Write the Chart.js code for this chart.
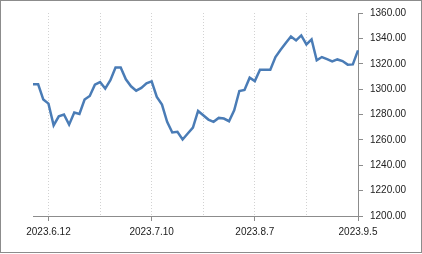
<!DOCTYPE html>
<html>
<head>
<meta charset="utf-8">
<script src="https://cdn.jsdelivr.net/npm/chart.js@4/dist/chart.umd.min.js"></script>
<style>
  html, body { margin: 0; padding: 0; background: #fff; }
  #wrap { position: relative; width: 422px; height: 254px; }
  #frame { position: absolute; left: 0; top: 0; width: 420px; height: 251px; border: 1px solid #8c8c8c; pointer-events: none; }
</style>
</head>
<body>
<div id="wrap">
  <canvas id="c" width="422" height="254"></canvas>
  <div id="frame"></div>
</div>
<script>
(function () {

  // trading days, 2023.6.7 .. 2023.9.5
  const dates = [
    '2023.6.7', '2023.6.8', '2023.6.9', '2023.6.12', '2023.6.13', '2023.6.14', '2023.6.15', '2023.6.16',
    '2023.6.19', '2023.6.20', '2023.6.21', '2023.6.22', '2023.6.23', '2023.6.26', '2023.6.27', '2023.6.28',
    '2023.6.29', '2023.6.30', '2023.7.3', '2023.7.4', '2023.7.5', '2023.7.6', '2023.7.7', '2023.7.10',
    '2023.7.11', '2023.7.12', '2023.7.13', '2023.7.14', '2023.7.17', '2023.7.18', '2023.7.19', '2023.7.20',
    '2023.7.21', '2023.7.24', '2023.7.25', '2023.7.26', '2023.7.27', '2023.7.28', '2023.7.31', '2023.8.1',
    '2023.8.2', '2023.8.3', '2023.8.4', '2023.8.7', '2023.8.8', '2023.8.9', '2023.8.10', '2023.8.11',
    '2023.8.14', '2023.8.16', '2023.8.17', '2023.8.18', '2023.8.21', '2023.8.22', '2023.8.23', '2023.8.24',
    '2023.8.25', '2023.8.28', '2023.8.29', '2023.8.30', '2023.8.31', '2023.9.1', '2023.9.4', '2023.9.5'
  ];

  const values = [
    1303.8, 1303.8, 1291.8, 1288.6, 1271.4, 1278.6, 1280.0, 1272.0,
    1281.5, 1280.4, 1291.8, 1294.6, 1303.5, 1305.6, 1300.4, 1307.0,
    1317.0, 1317.0, 1307.7, 1302.2, 1298.8, 1300.9, 1304.6, 1306.1,
    1293.8, 1287.8, 1274.2, 1265.8, 1266.3, 1260.3, 1265.0, 1269.7,
    1282.8, 1279.4, 1276.0, 1274.2, 1277.3, 1276.8, 1274.7, 1283.3,
    1298.5, 1299.3, 1309.0, 1306.3, 1315.3, 1315.3, 1315.3, 1325.3,
    1331.0, 1336.3, 1341.5, 1338.4, 1342.3, 1335.2, 1339.2, 1322.7,
    1325.3, 1323.7, 1321.9, 1323.4, 1322.1, 1319.3, 1319.5, 1330.5
  ];

  const yMin = 1200, yMax = 1360, yStep = 20;
  const firstTick = 3;      // 2023.6.12
  const gridEvery = 10;
  const labelEvery = 20;

  const axisColor = '#8c8c8c';
  const textColor = '#222';
  const font = { family: 'Liberation Sans', size: 10 };

  const isGrid = i => i >= firstTick && (i - firstTick) % gridEvery === 0;
  const isLabel = i => i >= firstTick && (i - firstTick) % labelEvery === 0;

  new Chart(document.getElementById('c'), {
    type: 'line',
    data: {
      labels: dates,
      datasets: [{
        data: values,
        borderColor: '#4a7cb6',
        borderWidth: 2.5,
        pointRadius: 0,
        tension: 0,
        fill: false
      }]
    },
    options: {
      responsive: false,
      animation: false,
      events: [],
      layout: { padding: { left: 33, top: 12, right: 14, bottom: 0 } },
      plugins: { legend: { display: false }, tooltip: { enabled: false } },
      scales: {
        x: {
          type: 'category',
          offset: false,
          afterFit: s => { s.height = 38; },
          border: { display: true, color: axisColor, width: 1, dash: [1, 2] },
          grid: {
            color: ctx => isGrid(ctx.index) ? '#d2d2d2' : 'rgba(0,0,0,0)',
            tickColor: ctx => isLabel(ctx.index) ? axisColor : 'rgba(0,0,0,0)',
            tickLength: 5,
            tickBorderDash: [],
            lineWidth: 1
          },
          ticks: {
            autoSkip: false,
            maxRotation: 0,
            padding: 5,
            color: textColor,
            font: font,
            callback: function (v, i) { return isLabel(i) ? dates[i] : ''; }
          }
        },
        y: {
          position: 'right',
          min: yMin,
          max: yMax,
          afterFit: s => { s.width = 50; },
          border: { display: true, color: axisColor, width: 1 },
          grid: {
            drawOnChartArea: false,
            tickColor: axisColor,
            tickLength: 5
          },
          ticks: {
            stepSize: yStep,
            padding: 7,
            color: textColor,
            font: font,
            callback: v => v.toFixed(2)
          }
        }
      }
    }
  });
})();
</script>
</body>
</html>
